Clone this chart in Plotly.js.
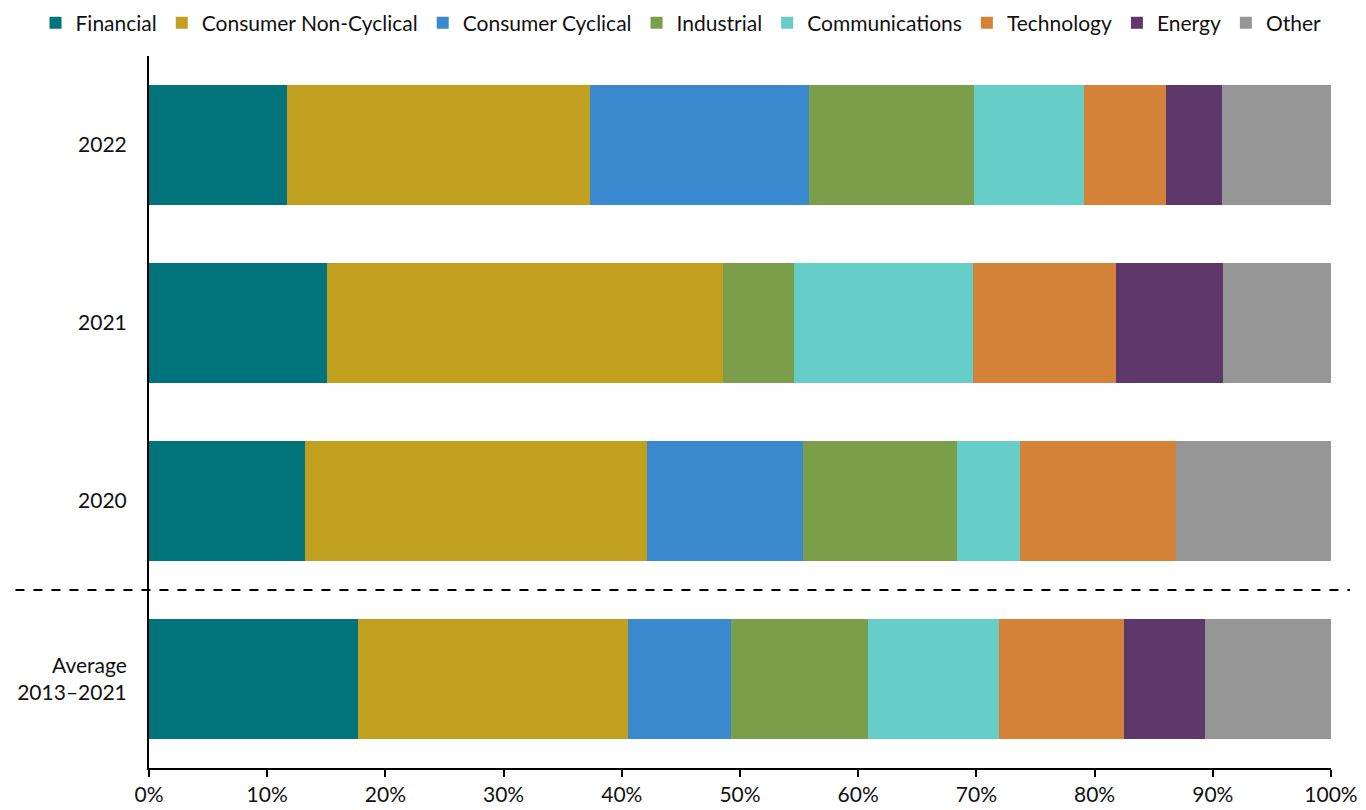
<!DOCTYPE html>
<html>
<head>
<meta charset="utf-8">
<script src="https://cdn.plot.ly/plotly-3.0.1.min.js"></script>
<style>
  body { margin: 0; background: #fff; }
  #chart { width: 1366px; height: 810px; }
</style>
</head>
<body>
<div id="chart"></div>
<script>
// Rows, bottom to top
const periods = ['Average<br>2013–2021', '2020', '2021', '2022'];

const sectors = ['Financial', 'Consumer Non-Cyclical', 'Consumer Cyclical', 'Industrial',
                 'Communications', 'Technology', 'Energy', 'Other'];
const sectorColors = ['#00737B', '#C1A020', '#3A88CE', '#7A9E4A',
                      '#66CDC8', '#D48237', '#5E376B', '#969696'];

// Share of each sector (%), same order as periods
const financial     = [17.7, 13.2, 15.1, 11.7];
const consNonCyc    = [22.8, 28.9, 33.5, 25.6];
const consCyc       = [8.7, 13.2, 0, 18.5];
const industrial    = [11.6, 13.1, 6.0, 14.0];
const communication = [11.1, 5.3, 15.1, 9.3];
const technology    = [10.6, 13.2, 12.1, 6.9];
const energy        = [6.8, 0, 9.1, 4.8];
const other         = [10.7, 13.1, 9.1, 9.2];

const seriesValues = [financial, consNonCyc, consCyc, industrial,
                      communication, technology, energy, other];

const traces = sectors.map((name, i) => ({
    type: 'bar',
    orientation: 'h',
    name: name,
    y: periods,
    x: seriesValues[i],
    marker: { color: sectorColors[i], line: { width: 0 } },
    hoverinfo: 'name+x'
}));

const layout = {
    width: 1366,
    height: 810,
    barmode: 'stack',
    bargap: 0.33,
    paper_bgcolor: '#fff',
    plot_bgcolor: '#fff',
    margin: { l: 149, r: 35, t: 56, b: 42, autoexpand: false },
    font: { family: 'Lato, "Open Sans", sans-serif', size: 21, color: '#111' },
    showlegend: true,
    // left of and above the plot area so the legend may use the full width in one row
    legend: {
        orientation: 'h',
        x: -0.096, xanchor: 'left',
        y: 1.075, yanchor: 'top',
        font: { size: 21 },
        itemwidth: 30,
        traceorder: 'normal'
    },
    xaxis: {
        range: [0, 100],
        tickvals: [0, 10, 20, 30, 40, 50, 60, 70, 80, 90, 100],
        ticktext: ['0%', '10%', '20%', '30%', '40%', '50%', '60%', '70%', '80%', '90%', '100%'],
        showgrid: false,
        zeroline: false,
        showline: true,
        linecolor: '#000',
        linewidth: 2,
        ticks: 'outside',
        ticklen: 7,
        tickwidth: 2,
        tickcolor: '#000',
        fixedrange: true
    },
    yaxis: {
        type: 'category',
        showgrid: false,
        zeroline: false,
        showline: true,
        linecolor: '#000',
        linewidth: 2,
        ticks: '',
        ticklabelstandoff: 16,
        fixedrange: true
    },
    shapes: [{
        type: 'line',
        xref: 'paper', yref: 'y',
        x0: -0.113, x1: 1.016,
        y0: 0.5, y1: 0.5,
        line: { color: '#000', width: 2, dash: 'dash' }
    }]
};

Plotly.newPlot('chart', traces, layout, { displayModeBar: false, staticPlot: true });
</script>
</body>
</html>
